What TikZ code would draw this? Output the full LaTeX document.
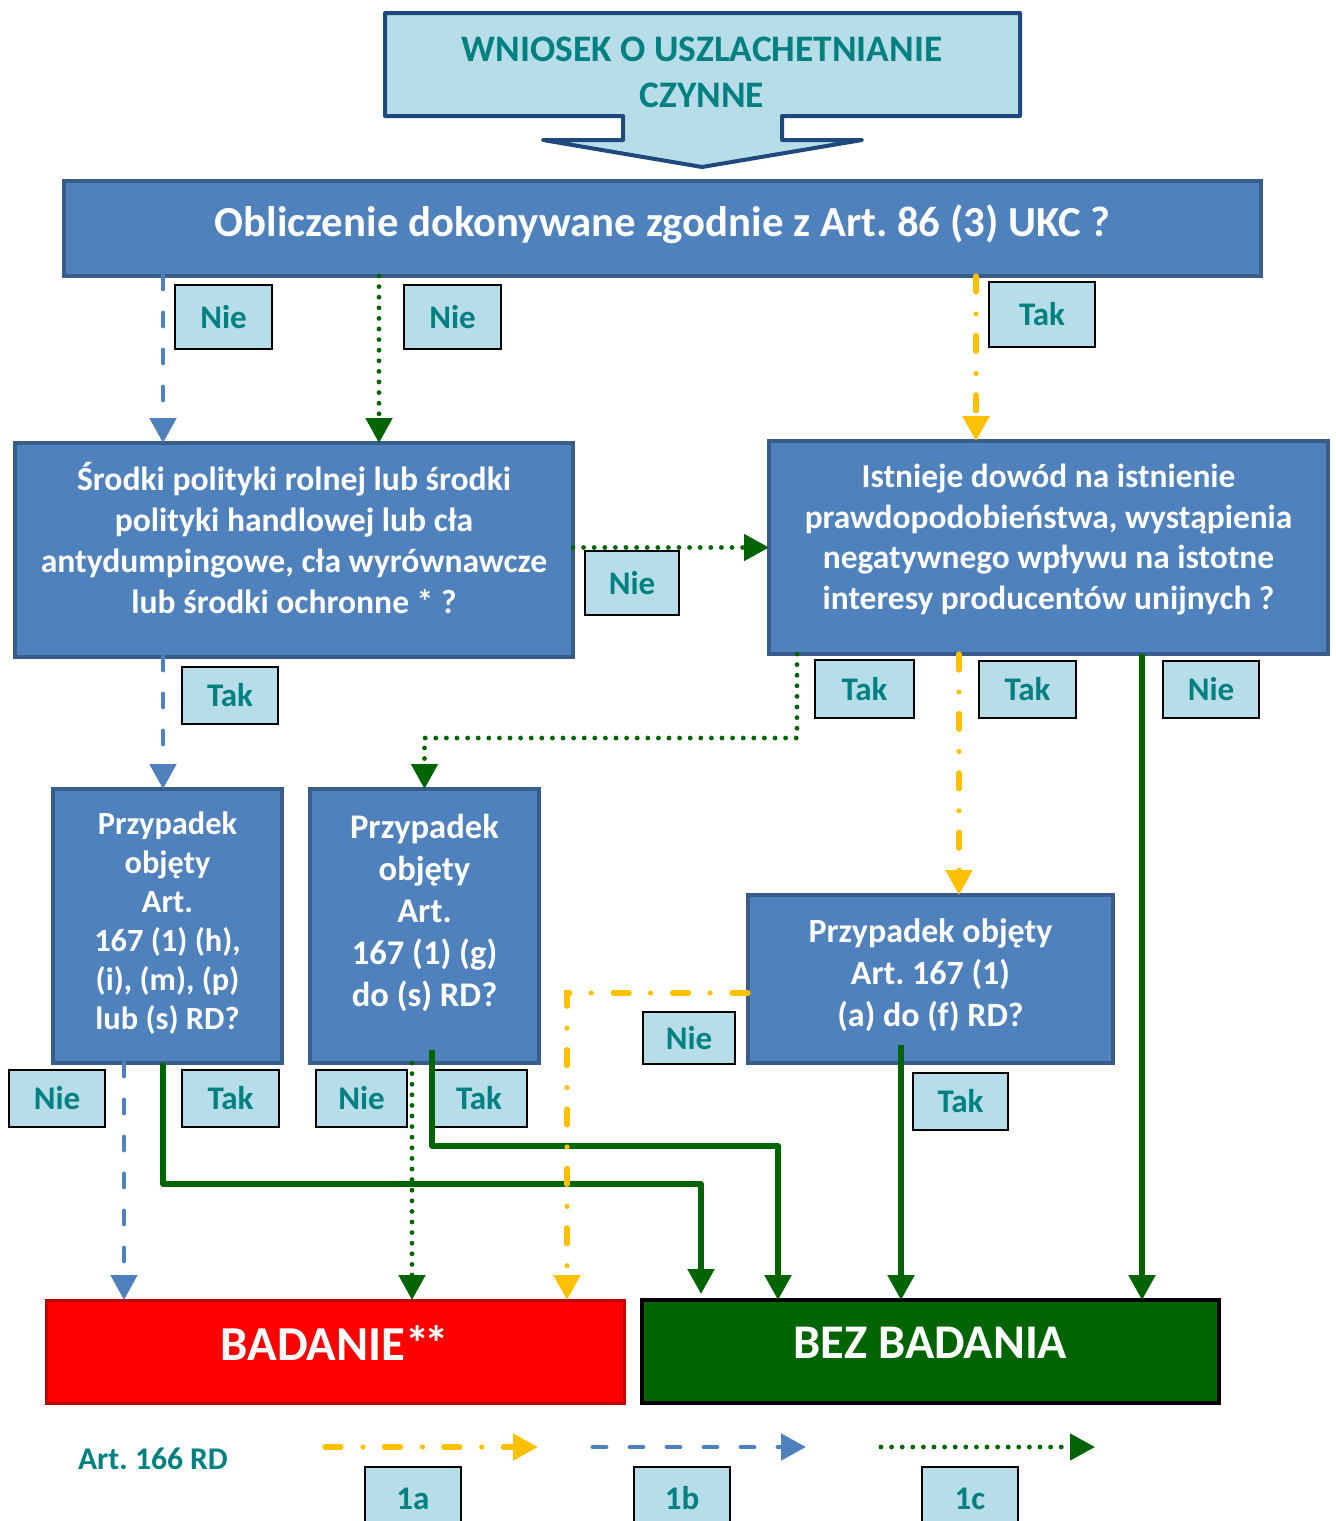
\documentclass[tikz,border=0pt]{standalone}
\usepackage{fontspec}
\setmainfont{Carlito}
\frenchspacing
\usetikzlibrary{arrows.meta}
\definecolor{lblue}{HTML}{B7DEE8}
\definecolor{tealtxt}{HTML}{008080}
\definecolor{boxblue}{HTML}{4F81BD}
\definecolor{boxborder}{HTML}{385D8A}
\definecolor{navy}{HTML}{1F497D}
\definecolor{dgreen}{HTML}{006400}
\definecolor{bred}{HTML}{FF0000}
\definecolor{dred}{HTML}{C00000}
\definecolor{amber}{HTML}{FFC000}
\begin{document}
\begin{tikzpicture}[x=0.5pt,y=-0.5pt,
  qbox/.style={draw=boxborder, fill=boxblue, line width=2pt, inner sep=0pt, outer sep=0pt},
  qtext/.style={text=white, align=center, inner sep=0pt},
  lab/.style={draw=black, fill=lblue, line width=1pt, text=tealtxt, font=\bfseries\fontsize{16.5}{19}\selectfont, inner sep=0pt, outer sep=0pt},
  tipg/.style={-{Triangle[length=12.5pt,width=13pt]}},
  bluedash/.style={draw=boxblue, line width=2.4pt, line cap=round, dash pattern=on 6.5pt off 12pt, tipg},
  greendot/.style={draw=dgreen, line width=2.4pt, line cap=round, dash pattern=on 0pt off 5.3pt, tipg},
  amberdash/.style={draw=amber, line width=2.6pt, line cap=round, dash pattern=on 8pt off 11pt on 0pt off 10.7pt, tipg},
  greenline/.style={draw=dgreen, line width=2.6pt, line join=round, tipg},
]
\useasboundingbox (0,0) rectangle (1335,1521);

% top arrow
\filldraw[fill=lblue, draw=navy, line width=2pt, line join=round]
  (385,13) -- (1020,13) -- (1020,116) -- (782,116) -- (782,140) -- (862,140) -- (702,167)
  -- (543,140) -- (623,140) -- (623,116) -- (385,116) -- cycle;
\node[text=tealtxt, align=center, font=\bfseries\fontsize{18.7}{23}\selectfont] (wniosek) at (702,72)
  {WNIOSEK O USZLACHETNIANIE\\CZYNNE};

% question boxes
\node[qbox, minimum width=598.5pt, minimum height=47.5pt] (oblicz) at (662.5,228.5) {};
\node[qtext, font=\bfseries\fontsize{21.4}{24}\selectfont] (obliczT) at (662.5,224)
  {Obliczenie dokonywane zgodnie z Art. 86 (3) UKC ?};
\node[qbox, minimum width=279pt, minimum height=107pt] (srodki) at (294,550) {};
\node[qtext, font=\bfseries\fontsize{16.8}{20.5}\selectfont] (srodkiT) at (294,538)
  {Środki polityki rolnej lub środki\\polityki handlowej lub cła\\antydumpingowe, cła wyrównawcze\\lub środki ochronne * ?};
\node[qbox, minimum width=279.5pt, minimum height=106.5pt] (istnieje) at (1048.5,547.5) {};
\node[qtext, font=\bfseries\fontsize{16.7}{20.3}\selectfont] (istniejeT) at (1048.5,539.5)
  {Istnieje dowód na istnienie\\prawdopodobieństwa, wystąpienia\\negatywnego wpływu na istotne\\interesy producentów unijnych ?};
\node[qbox, minimum width=114.5pt, minimum height=137pt] (p1) at (167.5,926) {};
\node[qtext, font=\bfseries\fontsize{16.2}{19.5}\selectfont] (p1T) at (167.5,923)
  {Przypadek\\objęty\\Art.\\167 (1) (h),\\(i), (m), (p)\\lub (s) RD?};
\node[qbox, minimum width=114.5pt, minimum height=137pt] (p2) at (424.5,926) {};
\node[qtext, font=\bfseries\fontsize{17.3}{21}\selectfont] (p2T) at (424.5,912.5)
  {Przypadek\\objęty\\Art.\\167 (1) (g)\\do (s) RD?};
\node[qbox, minimum width=182.5pt, minimum height=84pt] (p3) at (930.5,979) {};
\node[qtext, font=\bfseries\fontsize{17}{21}\selectfont] (p3T) at (930.5,975.5)
  {Przypadek objęty\\Art. 167 (1)\\(a) do (f) RD?};

% outcome boxes
\node[draw=dred, fill=bred, line width=1.5pt, inner sep=0pt, outer sep=0pt,
  minimum width=289pt, minimum height=51.5pt] (badanie) at (335,1351.5) {};
\node[qtext, font=\bfseries\fontsize{24.4}{28}\selectfont] (badanieT) at (335,1343) {BADANIE*\kern-2.5pt*};
\node[draw=black, fill=dgreen, line width=2pt, inner sep=0pt, outer sep=0pt,
  minimum width=288.5pt, minimum height=51.5pt] (bez) at (930.5,1351.5) {};
\node[qtext, font=\bfseries\fontsize{24.2}{28}\selectfont] (bezT) at (930.5,1343) {BEZ BADANIA};

% helper coordinates
\coordinate (x124) at (124,0);
\coordinate (x163) at (163,0);
\coordinate (x379) at (379,0);
\coordinate (x412) at (412,0);
\coordinate (x567) at (567,0);
\coordinate (x701) at (701,0);
\coordinate (x778) at (778,0);
\coordinate (x797) at (797,0);
\coordinate (x901) at (901,0);
\coordinate (x959) at (959,0);
\coordinate (x976) at (976,0);
\coordinate (x1142) at (1142,0);
\coordinate (y738) at (0,738);
\coordinate (y993) at (0,993);
\coordinate (y1146) at (0,1146);
\coordinate (y1184) at (0,1184);
\coordinate (p2start) at (432,1050);
\coordinate (p3start) at (901,1045);

% labels
\node[lab, minimum width=48.5pt, minimum height=32pt] (n1) at (223.5,317) {Nie};
\node[lab, minimum width=48.5pt, minimum height=32pt] (n2) at (452.5,317) {Nie};
\node[lab, minimum width=53pt, minimum height=32.5pt] (t1) at (1042,314.5) {Tak};
\node[lab, minimum width=47pt, minimum height=32pt] (n3) at (632,583) {Nie};
\node[lab, minimum width=48pt, minimum height=28.5pt] (t2) at (230,695.5) {Tak};
\node[lab, minimum width=49.5pt, minimum height=29pt] (t3) at (864.5,689) {Tak};
\node[lab, minimum width=48.5pt, minimum height=28.5pt] (t4) at (1027.5,689.5) {Tak};
\node[lab, minimum width=48pt, minimum height=28.5pt] (n4) at (1211,689.5) {Nie};
\node[lab, minimum width=48pt, minimum height=28.5pt] (n5) at (57,1098.5) {Nie};
\node[lab, minimum width=48.5pt, minimum height=28.5pt] (t5) at (230.5,1098.5) {Tak};
\node[lab, minimum width=45.5pt, minimum height=28.5pt] (n6) at (361.5,1098.5) {Nie};
\node[lab, minimum width=48pt, minimum height=28.5pt] (t6) at (479,1098.5) {Tak};
\node[lab, minimum width=46pt, minimum height=26pt] (n7) at (689,1038) {Nie};
\node[lab, minimum width=47.5pt, minimum height=28.5pt] (t7) at (960.5,1101.5) {Tak};

% connectors
\draw[bluedash] (oblicz.south -| x163) -- (srodki.north -| x163);
\draw[greendot] (oblicz.south -| x379) -- (srodki.north -| x379);
\draw[amberdash] (oblicz.south -| x976) -- (istnieje.north -| x976);
\draw[greendot] (srodki.east |- istnieje.west) -- (istnieje.west);
\draw[bluedash] (srodki.south -| x163) -- (p1.north -| x163);
\draw[greendot] (istnieje.south -| x797) |- (p2.north |- y738) -- (p2.north);
\draw[amberdash] (istnieje.south -| x959) -- (p3.north -| x959);
\draw[greenline] (istnieje.south -| x1142) -- (bez.north -| x1142);
\draw[bluedash] (p1.south -| x124) -- (badanie.north -| x124);
\draw[greenline, shorten >=3pt] (p1.south -| x163) |- (x701 |- y1184) -- (bez.north -| x701);
\draw[greendot] (p2.south -| x412) -- (badanie.north -| x412);
\draw[greenline] (p2start) |- (x778 |- y1146) -- (bez.north -| x778);
\draw[amberdash] (p3.west |- y993) -- (x567 |- y993) -- (badanie.north -| x567);
\draw[greenline] (p3start) -- (bez.north -| x901);

% legend
\node[text=tealtxt, font=\bfseries\fontsize{15.8}{18}\selectfont] (art166) at (153,1459) {Art. 166 RD};
\coordinate (la) at (325,1447); \coordinate (lae) at (538,1447);
\coordinate (lb) at (593,1447); \coordinate (lbe) at (806,1447);
\coordinate (lc) at (881,1447); \coordinate (lce) at (1095,1447);
\draw[amberdash] (la) -- (lae);
\draw[bluedash] (lb) -- (lbe);
\draw[greendot] (lc) -- (lce);
\node[lab, minimum width=48pt, minimum height=31.5pt] (l1a) at (413,1498.5) {1a};
\node[lab, minimum width=48pt, minimum height=31.5pt] (l1b) at (682,1498.5) {1b};
\node[lab, minimum width=48pt, minimum height=31.5pt] (l1c) at (970,1498.5) {1c};
\end{tikzpicture}
\end{document}
